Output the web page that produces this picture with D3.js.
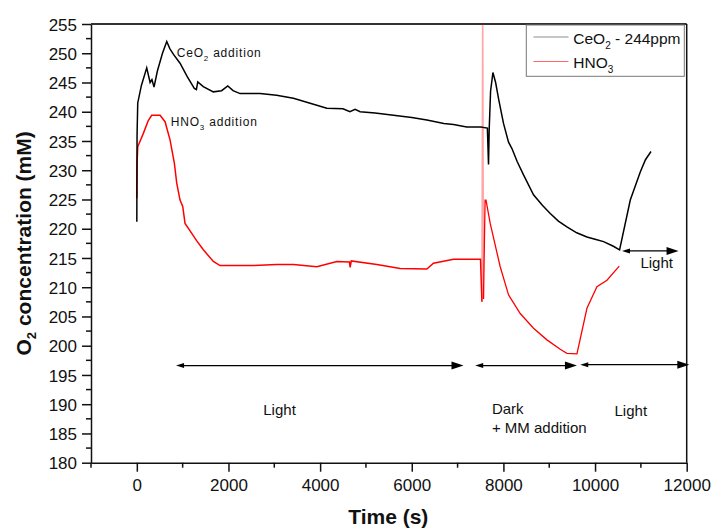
<!DOCTYPE html>
<html><head><meta charset="utf-8">
<script src="https://cdnjs.cloudflare.com/ajax/libs/d3/7.8.5/d3.min.js"></script>
<style>
body{margin:0;background:#fff;}
svg{display:block;font-family:Arial,"Liberation Sans",sans-serif;}
</style></head>
<body><svg id="c" width="712" height="530"></svg>
<script>
// ---- data (time s, O2 mM) ----
const ceo2Time = [0,5,20,100,216,290,330,375,450,560,653,720,800,943,1100,1255,1300,1330,1450,1670,1850,1985,2100,2253,2690,3050,3417,3800,4146,4500,4650,4764,4873,5200,5600,6000,6330,6700,6911,7200,7500,7650,7675,7690,7720,7771,7830,7900,8002,8112,8186,8300,8439,8657,8850,9022,9200,9386,9600,9823,10000,10186,10400,10535,10769,10987,11100,11221];
const ceo2Value = [221.2,236,241.5,244.5,247.5,245,245.5,244.2,247,250,252,250.8,249.8,248.3,246,244.0,243.8,245.1,244.3,243.4,243.6,244.4,243.6,243.1,243.1,242.8,242.3,241.4,240.6,240.5,240.0,240.4,240.0,239.8,239.4,239.0,238.6,238.0,237.8,237.4,237.4,237.2,231.0,237,243.5,246.7,245,242,238.0,234.8,233.7,231.5,229.2,225.8,224,222.6,221.3,220.3,219.3,218.6,218.2,217.8,217,216.4,224.9,229.7,231.8,233.2];
const hno3Time = [0,5,20,142,250,325,507,616,725,819,871,943,1002,1052,1199,1300,1452,1670,1817,2544,3054,3417,3928,4365,4640,4655,4680,5238,5747,6330,6474,6911,7500,7531,7548,7565,7600,7620,7712,7930,8112,8367,8657,8950,9240,9386,9605,9823,10041,10260,10528];
const hno3Value = [225.2,231,234.0,236.3,238.5,239.4,239.4,238.3,235.2,231.2,227.8,224.9,223.8,220.9,219.2,218,216.4,214.4,213.7,213.7,213.9,213.9,213.5,214.4,214.3,213.4,214.5,213.9,213.2,213.1,214.1,214.8,214.8,207.5,256,208,224.9,224.9,220.9,213.5,208.7,205.5,203.0,201.0,199.4,198.7,198.6,206.4,210.1,211.2,213.6];
const xTicks = [0,2000,4000,6000,8000,10000,12000];
const yTicks = [180,185,190,195,200,205,210,215,220,225,230,235,240,245,250,255];
// arrows: [t0, t1, value]
const arrowsData = [[856,7129,196.6],[7384,9605,196.6],[9677,12057,196.75],[10588,11823,216.2]];

const svg = d3.select("#c");
const L=91, R=686.7, T=24, B=462.7;
const x = d3.scaleLinear().domain([-1000,12000]).range([L,R]);
const y = d3.scaleLinear().domain([180,255]).range([B,T]);

svg.append("defs").append("clipPath").attr("id","clip")
  .append("rect").attr("x",L).attr("y",T).attr("width",R-L).attr("height",B-T);

// axes
const xAxis = d3.axisBottom(x).tickValues(xTicks).tickSize(9).tickSizeOuter(0).tickFormat(d3.format("d"));
const gx = svg.append("g").attr("transform",`translate(0,${B})`).call(xAxis);
const xMinor = d3.range(-1000,12001,2000);
gx.selectAll(".minor").data(xMinor).enter().append("line")
  .attr("x1",d=>x(d)).attr("x2",d=>x(d)).attr("y1",0).attr("y2",5).attr("stroke","#111").attr("stroke-width",1.5);
const yAxis = d3.axisLeft(y).tickValues(yTicks).tickSize(9).tickSizeOuter(0);
const gy = svg.append("g").attr("transform",`translate(${L},0)`).call(yAxis);
const yMinor = d3.range(182.5,255,5);
gy.selectAll(".minor").data(yMinor).enter().append("line")
  .attr("y1",d=>y(d)).attr("y2",d=>y(d)).attr("x1",0).attr("x2",-5).attr("stroke","#111").attr("stroke-width",1.5);
[gx,gy].forEach(g=>{
  g.select(".domain").attr("stroke","#111").attr("stroke-width",1.5);
  g.selectAll(".tick line").attr("stroke","#111").attr("stroke-width",1.5);
  g.selectAll(".tick text").attr("font-size",17).attr("fill","#111").attr("font-family","Arial,'Liberation Sans',sans-serif");
});
gx.selectAll(".tick text").attr("dy",null).attr("y",28);
gy.selectAll(".tick text").attr("x",-14).attr("dy","0.36em");
// top and right frame
svg.append("line").attr("x1",L).attr("x2",R).attr("y1",T).attr("y2",T).attr("stroke","#333").attr("stroke-width",2);
svg.append("line").attr("x1",R).attr("x2",R).attr("y1",T).attr("y2",B).attr("stroke","#111").attr("stroke-width",1.5);

// series
const line = d3.line().x(d=>x(d[0])).y(d=>y(d[1]));
const plot = svg.append("g").attr("clip-path","url(#clip)");
const hno3 = hno3Time.map((t,i)=>[t,hno3Value[i]]);
const si = hno3Time.indexOf(7531);
// pale spike portion (drawn thin, as in the reference)
plot.append("path").datum(hno3.slice(si,si+3))
  .attr("d",line).attr("fill","none").attr("stroke","#ff0000").attr("stroke-opacity",0.35).attr("stroke-width",1.6);
plot.append("path").datum(hno3.slice(0,si+1))
  .attr("d",line).attr("fill","none").attr("stroke","#ff0000").attr("stroke-width",1.5);
plot.append("path").datum(hno3.slice(si+2))
  .attr("d",line).attr("fill","none").attr("stroke","#ff0000").attr("stroke-width",1.3);
plot.append("path").datum(ceo2Time.map((t,i)=>[t,ceo2Value[i]]))
  .attr("d",line).attr("fill","none").attr("stroke","#000").attr("stroke-width",1.5);

// arrows
arrowsData.forEach(a=>{
  const x0=x(a[0]), x1=x(a[1]), yy=y(a[2]);
  svg.append("line").attr("x1",x0+4).attr("x2",x1-6).attr("y1",yy).attr("y2",yy).attr("stroke","#000").attr("stroke-width",1.2);
  svg.append("path").attr("d",`M${x0},${yy} L${x0+8},${yy-2.5} L${x0+8},${yy+2.5} Z`).attr("fill","#000");
  svg.append("path").attr("d",`M${x1},${yy} L${x1-12},${yy-4} L${x1-12},${yy+4} Z`).attr("fill","#000");
});

// annotations
function sub(t, parts, subSize){
  parts.forEach(p=>{
    const s = t.append("tspan").text(p[0]).attr("dy",p[2]||0);
    if(p[1]) s.attr("font-size",subSize);
  });
}
const a1 = svg.append("text").attr("x",x(870)).attr("y",y(249.4)).attr("font-size",12).attr("letter-spacing",0.8).attr("fill","#111");
sub(a1,[["CeO"],["2",true,4],[" addition",false,-4]],8);
const a2 = svg.append("text").attr("x",x(740)).attr("y",y(237.6)).attr("font-size",12).attr("letter-spacing",0.8).attr("fill","#111");
sub(a2,[["HNO"],["3",true,4],[" addition",false,-4]],8);

const txt = (s,t,v)=>svg.append("text").attr("x",x(t)).attr("y",y(v)).attr("font-size",15).attr("fill","#111").text(s);
txt("Light",2760,188.2);
txt("Dark",7750,188.3);
txt("+ MM addition",7750,185.0);
txt("Light",10425,187.9);
txt("Light",10990,213.3);

// legend
svg.append("rect").attr("x",526.3).attr("y",25).attr("width",158).attr("height",51.3).attr("fill","#fff").attr("stroke","#777").attr("stroke-width",1);
svg.append("line").attr("x1",533.5).attr("x2",568.5).attr("y1",37).attr("y2",37).attr("stroke","#000").attr("stroke-width",1).attr("stroke-opacity",0.45);
svg.append("line").attr("x1",533.5).attr("x2",568.5).attr("y1",61.5).attr("y2",61.5).attr("stroke","#f00").attr("stroke-width",1).attr("stroke-opacity",0.6);
const l1 = svg.append("text").attr("x",573.3).attr("y",44).attr("font-size",15.5).attr("fill","#111");
sub(l1,[["CeO"],["2",true,5],[" - 244ppm",false,-5]],10);
const l2 = svg.append("text").attr("x",573.3).attr("y",68.3).attr("font-size",15.5).attr("fill","#111");
sub(l2,[["HNO"],["3",true,5]],10);

// axis titles
svg.append("text").attr("x",388.3).attr("y",524.3).attr("text-anchor","middle").attr("font-size",21).attr("font-weight","bold").attr("fill","#111").text("Time (s)");
const yt = svg.append("text").attr("transform",`translate(31,${(T+B)/2}) rotate(-90)`).attr("text-anchor","middle").attr("font-size",21).attr("font-weight","bold").attr("fill","#111");
yt.append("tspan").text("O");
yt.append("tspan").text("2").attr("font-size",13).attr("dy",5);
yt.append("tspan").text(" concentration (mM)").attr("dy",-5);
</script></body></html>
